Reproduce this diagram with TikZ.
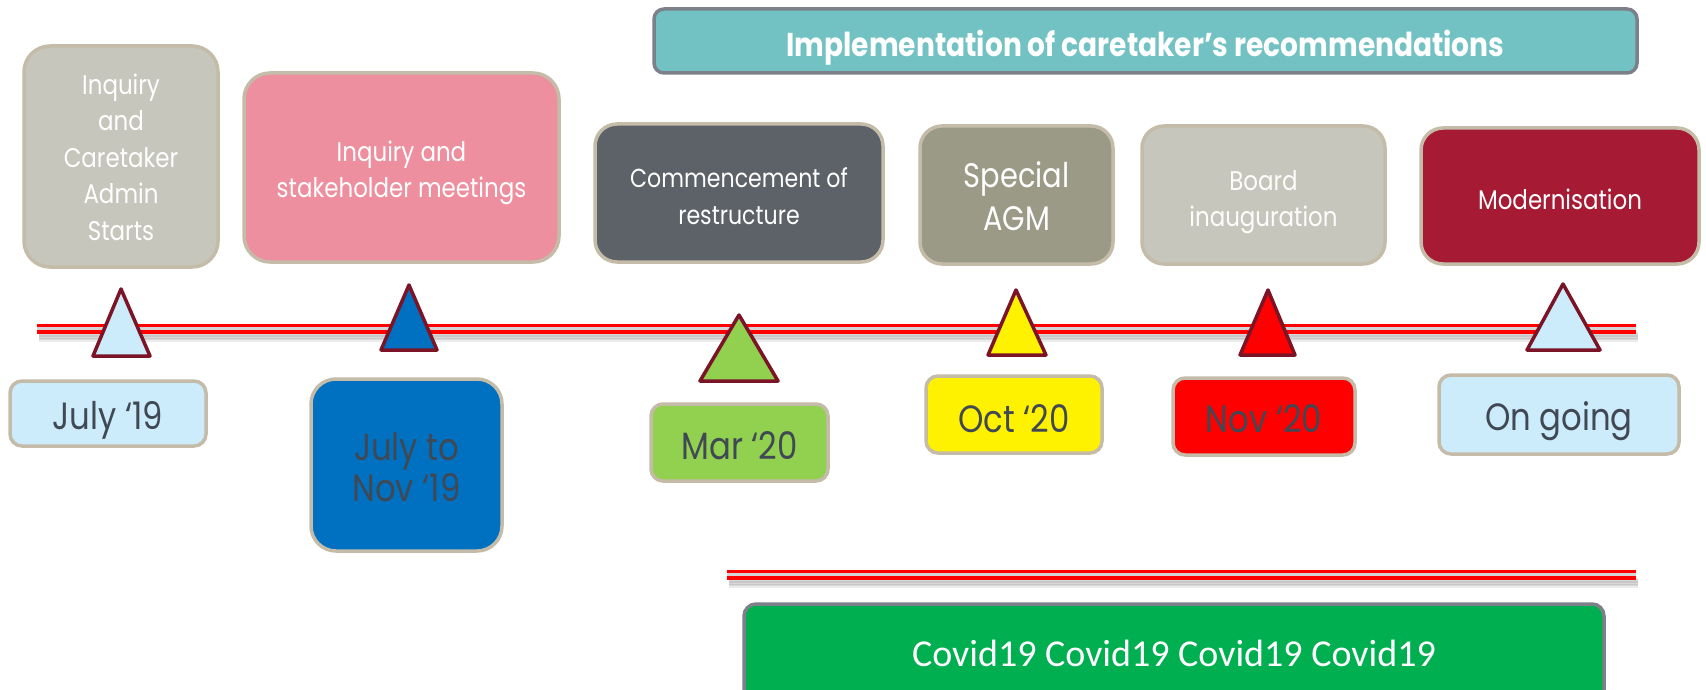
\documentclass[tikz,border=0pt]{standalone}
\usepackage{fontspec}
\setmainfont{Poppins}[FakeStretch=0.85]
\newfontfamily\covidfont{Carlito}
\newcommand{\shiftlines}[2]{\raisebox{-#1}[\height][\depth]{\begin{tabular}{@{}c@{}}#2\end{tabular}}}
\definecolor{boxborder}{HTML}{C4BCA8}
\definecolor{topborder}{HTML}{7C8089}
\definecolor{teal}{HTML}{72C2C4}
\definecolor{stone}{HTML}{C6C6BC}
\definecolor{pinkbox}{HTML}{EE8F9F}
\definecolor{slate}{HTML}{5D6168}
\definecolor{olive}{HTML}{9A9A87}
\definecolor{crimson}{HTML}{A61A34}
\definecolor{paleblue}{HTML}{CCEBFB}
\definecolor{deepblue}{HTML}{0070C0}
\definecolor{lime}{HTML}{92D050}
\definecolor{covidgreen}{HTML}{00AF50}
\definecolor{datetext}{HTML}{404854}
\definecolor{maroon}{HTML}{7A1426}
\definecolor{linegray}{HTML}{D4D4D4}
\tikzset{
  evbox/.style={draw=boxborder, line width=3.5pt, rounded corners=26pt, text=white, inner sep=0pt},
  datebox/.style={draw=boxborder, line width=3.5pt, rounded corners=12pt, text=datetext, inner sep=0pt,
    font=\fontsize{38}{41}\selectfont},
  tri/.style={draw=maroon, line width=3.5pt, line join=round},
  railred/.style={draw=red, line width=10pt},
  railmid/.style={draw=linegray, line width=3.5pt},
  railshadow/.style={draw=black, line width=4pt, opacity=0.08}
}
\begin{document}
\begin{tikzpicture}[x=1pt, y=-1pt]
\useasboundingbox (0,0) rectangle (1706,690);
\fill[white] (0,0) rectangle (1706,690);

% top banner
\node[draw=topborder, fill=teal, line width=3.5pt, rounded corners=10pt, minimum width=983pt, minimum height=64pt,
  text=white, font=\fontsize{33}{36}\selectfont\bfseries, inner sep=0pt] (impl) at (1145.5,41)
  {\shiftlines{7.2pt}{Implementation of caretaker’s recommendations}};

% event boxes
\node[evbox, fill=stone, minimum width=194pt, minimum height=221pt, font=\fontsize{27}{36.5}\selectfont] (b1) at (121,156.5)
  {\shiftlines{3.6pt}{Inquiry\\and\\Caretaker\\Admin\\Starts}};
\node[evbox, fill=pinkbox, minimum width=315pt, minimum height=189pt, font=\fontsize{27}{36}\selectfont] (b2) at (401.5,167.5)
  {\shiftlines{4.6pt}{Inquiry and\\stakeholder meetings}};
\node[evbox, fill=slate, rounded corners=22pt, minimum width=288pt, minimum height=138pt, font=\fontsize{26}{37}\selectfont] (b3) at (739,193)
  {\shiftlines{5.1pt}{Commencement of\\restructure}};
\node[evbox, fill=olive, rounded corners=22pt, minimum width=193pt, minimum height=138pt, font=\fontsize{34}{43.5}\selectfont] (b4) at (1016.5,195)
  {\shiftlines{5.1pt}{Special\\AGM}};
\node[evbox, fill=stone, rounded corners=22pt, minimum width=243pt, minimum height=138pt, text=white!96!stone, font=\fontsize{27}{36}\selectfont] (b5) at (1263.5,195)
  {\shiftlines{6.1pt}{Board\\inauguration}};
\node[evbox, fill=crimson, rounded corners=22pt, minimum width=278pt, minimum height=136pt, font=\fontsize{27}{36}\selectfont] (b6) at (1560,196)
  {\shiftlines{6pt}{Modernisation}};

% timeline
\coordinate (tl) at (37,328.5);
\coordinate (tr) at (1636,328.5);
\foreach \d in {5,6.5,8,9.5,11} {\draw[railshadow] ([xshift=2pt,yshift=-\d pt]tl) -- ([xshift=2pt,yshift=-\d pt]tr);}
\draw[railred] (tl) -- (tr);
\draw[railmid] (tl) -- (tr);

% bottom line
\coordinate (bl) at (727,574.5);
\coordinate (br) at (1636,574.5);
\foreach \d in {5,6.5,8,9.5,11} {\draw[railshadow] ([xshift=2pt,yshift=-\d pt]bl) -- ([xshift=2pt,yshift=-\d pt]br);}
\draw[railred] (bl) -- (br);
\draw[railmid] (bl) -- (br);

% triangles
\draw[tri, fill=paleblue] (121,289) -- (150,356) -- (93,356) -- cycle;
\draw[tri, fill=deepblue] (409,285) -- (437,350) -- (381,350) -- cycle;
\draw[tri, fill=lime] (739,315) -- (778,381) -- (700,381) -- cycle;
\draw[tri, fill=yellow] (1016,290) -- (1046,355) -- (988,355) -- cycle;
\draw[tri, fill=red] (1268,290) -- (1295,355) -- (1240,355) -- cycle;
\draw[tri, fill=paleblue] (1563,284) -- (1600,350) -- (1527,350) -- cycle;

% date boxes
\node[datebox, fill=paleblue, minimum width=196pt, minimum height=65pt] (d1) at (108,413.5) {\shiftlines{7.3pt}{July ‘19}};
\node[datebox, fill=deepblue, rounded corners=25pt, minimum width=191pt, minimum height=172pt] (d2) at (406.5,465) {\shiftlines{7.8pt}{July to\\Nov ‘19}};
\node[datebox, fill=lime, minimum width=177pt, minimum height=77pt] (d3) at (739.5,442.5) {\shiftlines{8.7pt}{Mar ‘20}};
\node[datebox, fill=yellow, minimum width=176pt, minimum height=77pt] (d4) at (1014,414.5) {\shiftlines{9.7pt}{Oct ‘20}};
\node[datebox, fill=red, minimum width=182pt, minimum height=77pt] (d5) at (1264,416.5) {\shiftlines{7.9pt}{Nov ‘20}};
\node[datebox, fill=paleblue, minimum width=240pt, minimum height=79pt] (d6) at (1559,414.5) {\shiftlines{7.9pt}{On going}};

% covid banner
\node[draw=topborder, fill=covidgreen, line width=3.5pt, rounded corners=12pt, minimum width=860pt, minimum height=98pt,
  text=white, font=\covidfont\fontsize{38}{40}\selectfont, inner sep=0pt] (covid) at (1174,653) {Covid19 Covid19 Covid19 Covid19};
\end{tikzpicture}
\end{document}
